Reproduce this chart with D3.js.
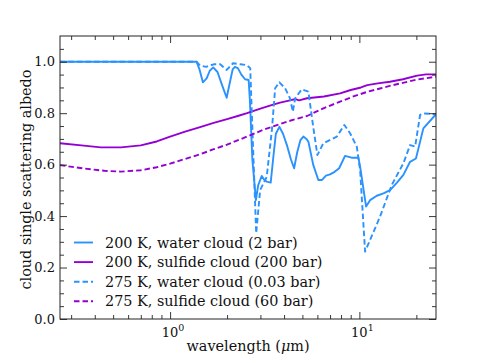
<!DOCTYPE html>
<head>
  <meta charset="utf-8">
  <script src="https://cdn.jsdelivr.net/npm/d3@7"></script>
  <style>
    body { margin: 0; background: #fff; }
  </style>
</head>
<body>
<div id="container"></div>
<script>

  // [wavelength (um), albedo]
  let water200 = [[0.262, 1.0], [1.0, 1.0], [1.38, 1.0], [1.43, 0.97], [1.49, 0.92], [1.56, 0.935],
    [1.62, 0.965], [1.69, 0.978], [1.78, 0.96], [1.88, 0.91], [1.99, 0.86], [2.07, 0.92], [2.14, 0.97],
    [2.2, 0.98], [2.28, 0.975], [2.38, 0.95], [2.49, 0.932], [2.6, 0.929], [2.64, 0.85], [2.72, 0.62],
    [2.84, 0.462], [2.92, 0.52], [3.05, 0.556], [3.15, 0.54], [3.24, 0.534], [3.4, 0.53], [3.5, 0.62],
    [3.62, 0.72], [3.78, 0.747], [3.95, 0.72], [4.14, 0.676], [4.35, 0.62], [4.52, 0.586], [4.7, 0.65],
    [4.88, 0.695], [5.06, 0.709], [5.25, 0.7], [5.38, 0.689], [5.7, 0.6], [6.07, 0.54], [6.33, 0.54],
    [6.66, 0.557], [7.0, 0.562], [7.4, 0.572], [7.82, 0.586], [8.4, 0.634], [9.1, 0.627], [9.88, 0.627],
    [10.1, 0.59], [10.85, 0.437], [11.39, 0.462], [12.36, 0.479], [13.4, 0.488], [14.53, 0.501],
    [15.8, 0.53], [17.08, 0.56], [18.53, 0.611], [19.9, 0.624], [21.78, 0.741], [25.4, 0.796]];

  let sulfide200 = [[0.262, 0.683], [0.35, 0.674], [0.43, 0.667], [0.55, 0.667], [0.7, 0.675],
    [0.85, 0.69], [1.0, 0.709], [1.2, 0.728], [1.44, 0.746], [1.7, 0.762], [2.0, 0.777], [2.3, 0.79],
    [2.55, 0.8], [3.0, 0.818], [3.4, 0.83], [3.81, 0.841], [4.3, 0.85], [4.6, 0.855], [4.8, 0.85],
    [5.29, 0.858], [6.5, 0.865], [7.91, 0.877], [9.0, 0.89], [10.2, 0.9], [11.0, 0.909], [12.5, 0.916],
    [14.5, 0.922], [17.0, 0.932], [20.2, 0.946], [22.5, 0.951], [25.4, 0.951]];

  let water275 = [[0.262, 1.0], [1.0, 1.0], [1.38, 1.0], [1.44, 0.985], [1.55, 0.98], [1.7, 0.99],
    [1.84, 0.99], [1.99, 0.968], [2.15, 0.994], [2.35, 0.99], [2.54, 0.987], [2.65, 0.975],
    [2.85, 0.333], [2.99, 0.501], [3.24, 0.553], [3.45, 0.735], [3.59, 0.897], [3.78, 0.92],
    [4.05, 0.897], [4.3, 0.858], [4.45, 0.806], [4.58, 0.858], [4.96, 0.893], [5.38, 0.884],
    [5.67, 0.76], [6.0, 0.637], [6.45, 0.683], [7.6, 0.709], [8.33, 0.754], [8.93, 0.722],
    [9.69, 0.67], [10.09, 0.579], [10.72, 0.262], [11.39, 0.307], [12.86, 0.398], [14.83, 0.521],
    [17.08, 0.605], [18.53, 0.676], [19.7, 0.67], [20.93, 0.793], [21.78, 0.799], [25.4, 0.796]];

  let sulfide275 = [[0.262, 0.598], [0.35, 0.585], [0.45, 0.576], [0.55, 0.573], [0.7, 0.578],
    [0.85, 0.59], [1.0, 0.604], [1.2, 0.622], [1.44, 0.64], [1.7, 0.66], [2.0, 0.678], [2.55, 0.709],
    [3.1, 0.735], [3.81, 0.758], [4.5, 0.775], [5.29, 0.789], [6.5, 0.82], [7.91, 0.845],
    [9.3, 0.865], [11.0, 0.883], [13.0, 0.897], [15.0, 0.909], [20.0, 0.93], [25.4, 0.942]];

  let seriesNames = ["200 K, water cloud (2 bar)", "200 K, sulfide cloud (200 bar)",
    "275 K, water cloud (0.03 bar)", "275 K, sulfide cloud (60 bar)"];

  let yTicks = [0.0, 0.2, 0.4, 0.6, 0.8, 1.0];
  let xMajorTicks = [1, 10];

  let blue = "#2a92ff";
  let purple = "#9400d3";
  let serif = "DejaVu Serif";

  let series = [
    {name: seriesNames[0], data: water200, color: blue, dash: null},
    {name: seriesNames[1], data: sulfide200, color: purple, dash: null},
    {name: seriesNames[2], data: water275, color: blue, dash: "5.5,3"},
    {name: seriesNames[3], data: sulfide275, color: purple, dash: "5.5,3"}
  ];

  let svg_width = 485;
  let svg_height = 363;
  let padding = {top: 36, right: 49, bottom: 44, left: 60};

  let xScale = d3.scaleLog()
    .domain([0.262, 25.4])
    .range([padding.left, svg_width - padding.right]);

  let yScale = d3.scaleLinear()
    .domain([0, 1.1])
    .range([svg_height - padding.bottom, padding.top]);

  let svg = d3.select("#container").append("svg")
    .attr("width", svg_width)
    .attr("height", svg_height)
    .attr("font-family", serif);

  let plotW = svg_width - padding.right - padding.left;
  let plotH = svg_height - padding.bottom - padding.top;

  svg.append("clipPath").attr("id", "clip")
    .append("rect")
    .attr("x", padding.left).attr("y", padding.top)
    .attr("width", plotW).attr("height", plotH);

  let line = d3.line()
    .x(function (d) { return xScale(d[0]); })
    .y(function (d) { return yScale(d[1]); });

  series.forEach(function (s) {
    svg.append("path")
      .datum(s.data)
      .attr("clip-path", "url(#clip)")
      .attr("fill", "none")
      .attr("stroke", s.color)
      .attr("stroke-width", 1.9)
      .attr("stroke-linejoin", "round")
      .attr("stroke-dasharray", s.dash)
      .attr("d", line);
  });

  // minor ticks
  let xMinor = [];
  [0.1, 1, 10].forEach(function (dec) {
    for (let k = 2; k <= 9; k = k + 1) {
      let v = dec * k;
      if (v >= 0.262 && v <= 25.4) xMinor.push(v);
    }
  });
  let yMinor = d3.range(0, 22).map(function (i) { return i * 0.05; })
    .filter(function (v) { return Math.round(v * 100) % 20 !== 0; });

  let x_bottom = d3.axisBottom(xScale).tickValues(xMajorTicks).tickSizeInner(-7).tickSizeOuter(0).tickFormat("");
  let x_bottom_minor = d3.axisBottom(xScale).tickValues(xMinor).tickSizeInner(-4).tickSizeOuter(0).tickFormat("");
  let x_top = d3.axisTop(xScale).tickValues(xMajorTicks).tickSizeInner(-7).tickSizeOuter(0).tickFormat("");
  let x_top_minor = d3.axisTop(xScale).tickValues(xMinor).tickSizeInner(-4).tickSizeOuter(0).tickFormat("");

  let y_left = d3.axisLeft(yScale).tickValues(yTicks).tickSizeInner(-7).tickSizeOuter(0)
    .tickPadding(5).tickFormat(d3.format(".1f"));
  let y_left_minor = d3.axisLeft(yScale).tickValues(yMinor).tickSizeInner(-4).tickSizeOuter(0).tickFormat("");
  let y_right = d3.axisRight(yScale).tickValues(yTicks).tickSizeInner(-7).tickSizeOuter(0).tickFormat("");
  let y_right_minor = d3.axisRight(yScale).tickValues(yMinor).tickSizeInner(-4).tickSizeOuter(0).tickFormat("");

  let bottomY = svg_height - padding.bottom;
  let rightX = svg_width - padding.right;

  [[x_bottom, "translate(0," + bottomY + ")"], [x_bottom_minor, "translate(0," + bottomY + ")"],
   [x_top, "translate(0," + padding.top + ")"], [x_top_minor, "translate(0," + padding.top + ")"],
   [y_left, "translate(" + padding.left + ",0)"], [y_left_minor, "translate(" + padding.left + ",0)"],
   [y_right, "translate(" + rightX + ",0)"], [y_right_minor, "translate(" + rightX + ",0)"]]
    .forEach(function (a) {
      let g = svg.append("g").attr("transform", a[1]).call(a[0])
        .attr("font-family", serif).attr("font-size", 13);
      g.select(".domain").remove();
      g.selectAll("line").attr("stroke", "#222").attr("stroke-width", 0.9);
      g.selectAll("text").attr("fill", "#111");
    });

  // x tick labels 10^0, 10^1
  xMajorTicks.forEach(function (v) {
    let t = svg.append("text")
      .attr("x", xScale(v) + 3)
      .attr("y", 337)
      .attr("text-anchor", "middle")
      .attr("font-size", 13)
      .attr("fill", "#111");
    t.append("tspan").text("10");
    t.append("tspan").attr("dy", -6).attr("font-size", 9.5).text(Math.round(Math.log10(v)));
  });

  // frame
  svg.append("rect")
    .attr("x", padding.left).attr("y", padding.top)
    .attr("width", plotW).attr("height", plotH)
    .attr("fill", "none").attr("stroke", "#222").attr("stroke-width", 1);

  // legend
  series.forEach(function (s, i) {
    let ly = 242.5 + i * 19.6;
    svg.append("line")
      .attr("x1", 74).attr("x2", 93)
      .attr("y1", ly).attr("y2", ly)
      .attr("stroke", s.color)
      .attr("stroke-width", 1.9)
      .attr("stroke-dasharray", s.dash);
    svg.append("text")
      .attr("x", 105).attr("y", ly + 5)
      .attr("font-size", 14.4)
      .attr("fill", "#111")
      .text(s.name);
  });

  svg.append("text")
    .attr("x", padding.left + plotW / 2)
    .attr("y", 351)
    .attr("text-anchor", "middle")
    .attr("font-size", 14.4)
    .attr("fill", "#111")
    .html('wavelength (<tspan font-style="italic">\u03bc</tspan>m)');

  svg.append("text")
    .attr("transform", "rotate(-90)")
    .attr("x", -(padding.top + plotH / 2) - 2)
    .attr("y", 31)
    .attr("text-anchor", "middle")
    .attr("font-size", 14.4)
    .attr("fill", "#111")
    .text("cloud single scattering albedo");

</script>
</body>
